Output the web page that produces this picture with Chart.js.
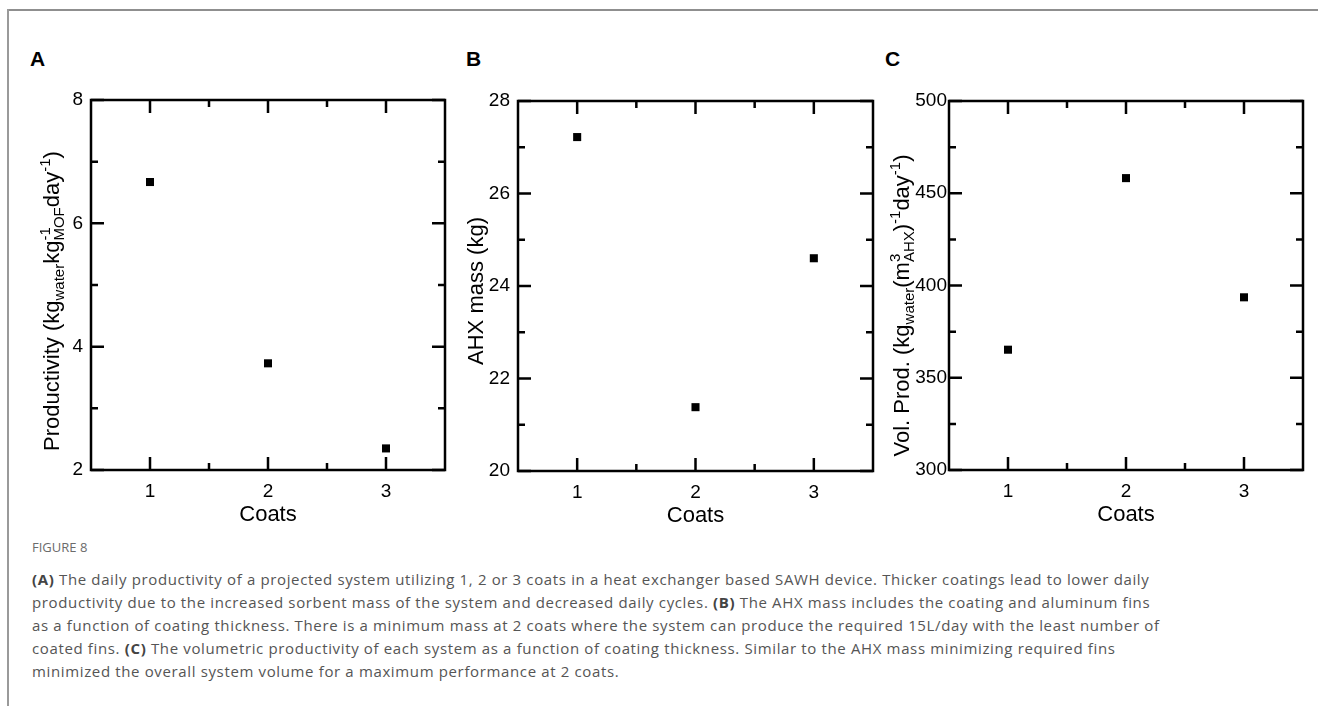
<!DOCTYPE html>
<html lang="en">
<head>
<meta charset="UTF-8">
<title>Figure 8</title>
<script src="https://cdn.jsdelivr.net/npm/chart.js"></script>
<style>
    body { margin: 0; width: 1318px; height: 706px; background: #fff; position: relative; overflow: hidden; font-family: "Liberation Sans", Arial, sans-serif; }
    .frameTop { position: absolute; left: 7px; top: 9px; width: 1311px; height: 2px; background: #8f8f8f; }
    .frameLeft { position: absolute; left: 7px; top: 9px; width: 2px; height: 697px; background: #9a9a9a; }
    canvas { position: absolute; }
    .letter { position: absolute; top: 48px; font-weight: bold; font-size: 21px; line-height: 21px; color: #000; }
    .fig { position: absolute; left: 32px; top: 539px; font-family: "Open Sans", sans-serif; font-size: 13px; line-height: 16px; color: #6b6b6b; }
    .caption { position: absolute; left: 32px; top: 568px; font-family: "Open Sans", sans-serif; font-size: 15px; line-height: 23px; letter-spacing: 0.64px; color: #555; white-space: nowrap; }
    .caption b { color: #444; }
</style>
</head>
<body>
<div class="frameTop"></div>
<div class="frameLeft"></div>

<div class="letter" style="left:30px">A</div>
<div class="letter" style="left:466px">B</div>
<div class="letter" style="left:885px">C</div>

<canvas id="chartA" width="436" height="460" style="left:21px; top:70px"></canvas>
<canvas id="chartB" width="437" height="460" style="left:448px; top:71px"></canvas>
<canvas id="chartC" width="436" height="459" style="left:879px; top:71px"></canvas>

<div class="fig">FIGURE 8</div>
<div class="caption">
    <b>(A)</b> The daily productivity of a projected system utilizing 1, 2 or 3 coats in a heat exchanger based SAWH device. Thicker coatings lead to lower daily<br>
    productivity due to the increased sorbent mass of the system and decreased daily cycles. <b>(B)</b> The AHX mass includes the coating and aluminum fins<br>
    as a function of coating thickness. There is a minimum mass at 2 coats where the system can produce the required 15L/day with the least number of<br>
    coated fins. <b>(C)</b> The volumetric productivity of each system as a function of coating thickness. Similar to the AHX mass minimizing required fins<br>
    minimized the overall system volume for a maximum performance at 2 coats.
</div>

<script>
    // data
    var coats = [1, 2, 3];
    var productivity = [6.67, 3.73, 2.35];
    var ahxMass = [27.22, 21.38, 24.60];
    var volProd = [365.2, 458.2, 393.6];

    // tick labels
    var coatTicks = [1, 2, 3];
    var prodTicks = [2, 4, 6, 8];
    var massTicks = [20, 22, 24, 26, 28];
    var volTicks = [300, 350, 400, 450, 500];

    var tickFont = { family: "'Liberation Sans', Arial, sans-serif", size: 19 };
    var mainFont = "22px 'Liberation Sans', Arial, sans-serif";
    var smallFont = "15px 'Liberation Sans', Arial, sans-serif";

    // box around the plot and inward ticks on all four sides
    var frameTicks = {
        id: 'frameTicks',
        afterDraw: function(chart) {
            var ctx = chart.ctx;
            var a = chart.chartArea;
            var x = chart.scales.x;
            var y = chart.scales.y;
            ctx.save();
            ctx.strokeStyle = '#000';
            ctx.lineWidth = 2.5;
            ctx.beginPath();
            function mark(v, len, horiz) {
                if (horiz) {
                    var px = x.getPixelForValue(v);
                    ctx.moveTo(px, a.bottom); ctx.lineTo(px, a.bottom - len);
                    ctx.moveTo(px, a.top); ctx.lineTo(px, a.top + len);
                } else {
                    var py = y.getPixelForValue(v);
                    ctx.moveTo(a.left, py); ctx.lineTo(a.left + len, py);
                    ctx.moveTo(a.right, py); ctx.lineTo(a.right - len, py);
                }
            }
            var xv = x.ticks.map(function(t) { return t.value; });
            var yv = y.ticks.map(function(t) { return t.value; });
            xv.forEach(function(v, i) {
                mark(v, 13, true);
                if (i < xv.length - 1) mark((v + xv[i + 1]) / 2, 7, true);
            });
            yv.forEach(function(v, i) {
                mark(v, 13, false);
                if (i < yv.length - 1) mark((v + yv[i + 1]) / 2, 7, false);
            });
            ctx.stroke();
            ctx.strokeRect(a.left, a.top, a.right - a.left, a.bottom - a.top);
            ctx.restore();
        }
    };

    // rotated y title with sub / superscripts
    var richTitle = {
        id: 'richTitle',
        afterDraw: function(chart, args, opts) {
            var ctx = chart.ctx;
            var a = chart.chartArea;
            var segs = opts.segments;
            ctx.save();
            function w(s, k) {
                if (k === 3) {
                    ctx.font = smallFont;
                    return Math.max(ctx.measureText(s[0]).width, ctx.measureText(s[1]).width);
                }
                ctx.font = k === 0 ? mainFont : smallFont;
                return ctx.measureText(s).width;
            }
            var total = 0;
            segs.forEach(function(s) { total += w(s[0], s[1]); });
            ctx.translate(a.left - opts.dx, (a.top + a.bottom) / 2 + opts.dy);
            ctx.rotate(-Math.PI / 2);
            ctx.fillStyle = '#000';
            ctx.textBaseline = 'alphabetic';
            var cx = -total / 2;
            segs.forEach(function(s) {
                var k = s[1];
                var width = w(s[0], k);
                if (k === 0) { ctx.font = mainFont; ctx.fillText(s[0], cx, 0); }
                if (k === 1) { ctx.font = smallFont; ctx.fillText(s[0], cx, 5); }
                if (k === 2) { ctx.font = smallFont; ctx.fillText(s[0], cx, -9); }
                if (k === 3) { ctx.font = smallFont; ctx.fillText(s[0][0], cx, -9); ctx.fillText(s[0][1], cx, 5); }
                cx += width;
            });
            ctx.restore();
        }
    };

    function makeChart(id, values, yTicks, tickPad, title) {
        return new Chart(document.getElementById(id), {
            type: 'scatter',
            data: {
                datasets: [{
                    data: coats.map(function(c, i) { return { x: c, y: values[i] }; }),
                    pointStyle: 'rect',
                    pointRadius: 5.7,
                    borderWidth: 0,
                    backgroundColor: '#000'
                }]
            },
            options: {
                responsive: false,
                animation: false,
                layout: { padding: { top: 30, right: 12, left: 0, bottom: 0 } },
                plugins: {
                    legend: { display: false },
                    tooltip: { enabled: false },
                    richTitle: title
                },
                scales: {
                    x: {
                        type: 'linear',
                        min: coatTicks[0] - 0.5,
                        max: coatTicks[coatTicks.length - 1] + 0.5,
                        afterBuildTicks: function(s) { s.ticks = coatTicks.map(function(v) { return { value: v }; }); },
                        afterFit: function(s) { s.height = 60; },
                        grid: { display: false, drawTicks: false },
                        border: { display: false },
                        ticks: { font: tickFont, color: '#000', padding: 10, maxRotation: 0 },
                        title: { display: true, text: 'Coats', color: '#000', font: { family: "'Liberation Sans', Arial, sans-serif", size: 22 }, padding: { top: 0, bottom: 2 } }
                    },
                    y: {
                        min: yTicks[0],
                        max: yTicks[yTicks.length - 1],
                        afterBuildTicks: function(s) { s.ticks = yTicks.map(function(v) { return { value: v }; }); },
                        afterFit: function(s) { s.width = 70; },
                        grid: { display: false, drawTicks: false },
                        border: { display: false },
                        ticks: { font: tickFont, color: '#000', padding: tickPad }
                    }
                }
            },
            plugins: [frameTicks, richTitle]
        });
    }

    makeChart('chartA', productivity, prodTicks, 8, {
        dx: 31.7, dy: 16,
        segments: [['Productivity (kg', 0], ['water', 1], ['kg', 0], [['-1', 'MOF'], 3], ['day', 0], ['-1', 2], [')', 0]]
    });
    makeChart('chartB', ahxMass, massTicks, 8, {
        dx: 35, dy: 5,
        segments: [['AHX mass (kg)', 0]]
    });
    makeChart('chartC', volProd, volTicks, 2, {
        dx: 39.7, dy: 20,
        segments: [['Vol. Prod. (kg', 0], ['water', 1], ['(m', 0], [['3', 'AHX'], 3], [')', 0], ['-1', 2], ['day', 0], ['-1', 2], [')', 0]]
    });
</script>
</body>
</html>
